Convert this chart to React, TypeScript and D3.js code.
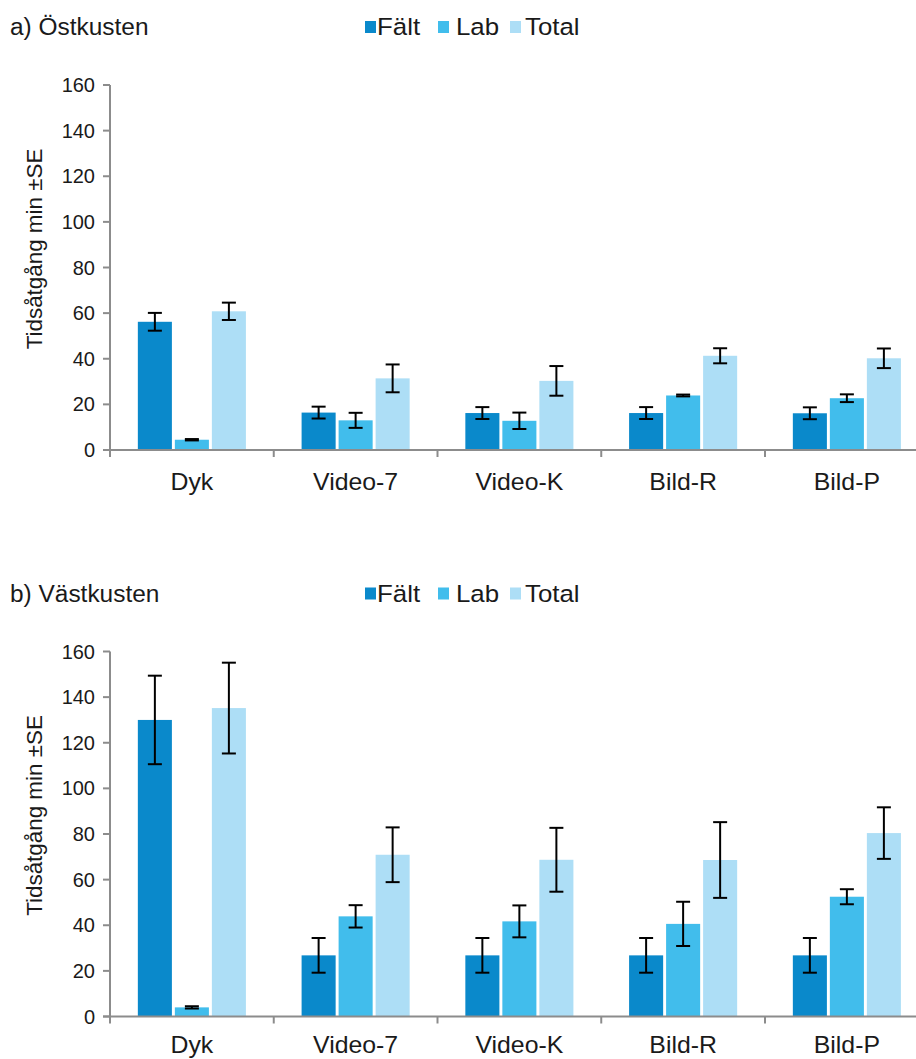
import React from "react";
import * as d3 from "d3";

const categories = ["Dyk", "Video-7", "Video-K", "Bild-R", "Bild-P"];
const seriesNames = ["Fält", "Lab", "Total"];
const seriesColors = ["#0a89cb", "#41bdec", "#addef6"];
const yTicks = [0, 20, 40, 60, 80, 100, 120, 140, 160];

// a) Östkusten
const eastFalt = [56.2, 16.4, 16.2, 16.2, 16.1];
const eastFaltSE = [3.9, 2.6, 2.6, 2.6, 2.6];
const eastLab = [4.5, 13.0, 12.8, 23.9, 22.7];
const eastLabSE = [0.3, 3.3, 3.6, 0.4, 1.7];
const eastTotal = [60.8, 31.4, 30.3, 41.3, 40.2];
const eastTotalSE = [3.8, 6.1, 6.5, 3.3, 4.3];

// b) Västkusten
const westFalt = [130, 26.8, 26.8, 26.8, 26.8];
const westFaltSE = [19.4, 7.6, 7.6, 7.6, 7.6];
const westLab = [4.0, 43.9, 41.7, 40.6, 52.5];
const westLabSE = [0.5, 4.9, 7.0, 9.7, 3.3];
const westTotal = [135.2, 70.9, 68.7, 68.6, 80.4];
const westTotalSE = [19.9, 12.0, 14.0, 16.6, 11.3];

const FONT = "'Liberation Sans', Arial, Helvetica, sans-serif";
const AXIS = "#8c8c8c";
const TXT = "#1a1a1a";

type PanelProps = {
  title: string;
  values: number[][];
  errors: number[][];
  dy: number;
};

function Panel({ title, values, errors, dy }: PanelProps) {
  const y = d3.scaleLinear().domain([0, 160]).range([450 + dy, 85 + dy]);
  const x0 = d3
    .scaleBand<string>()
    .domain(categories)
    .range([110, 928.75])
    .paddingInner(0.322)
    .paddingOuter(0.161);
  const x1 = d3
    .scaleBand<string>()
    .domain(seriesNames)
    .range([0, x0.bandwidth()])
    .paddingInner(0.08)
    .paddingOuter(0.04);
  const step = x0.step();
  const boundaries = d3.range(categories.length + 1).map((i) => 110 + i * step);
  const y0 = y(0);
  const legendX = [365, 438, 510];
  const legendTextX = [377, 456, 525];
  const catY = Math.min(489.5 + dy, 1053);

  return (
    <g>
      <text
        transform={`translate(10,${35 + dy}) scale(1.04,1)`}
        fontFamily={FONT}
        fontSize={23.5}
        fill={TXT}
      >
        {title}
      </text>
      {seriesNames.map((s, i) => (
        <g key={s}>
          <rect x={legendX[i]} y={21 + dy} width={11} height={12} fill={seriesColors[i]} />
          <text
            transform={`translate(${legendTextX[i]},${35 + dy}) scale(1.1,1)`}
            fontFamily={FONT}
            fontSize={23.5}
            fill={TXT}
          >
            {s}
          </text>
        </g>
      ))}
      <text
        transform={`translate(41.5,${249 + dy}) rotate(-90)`}
        textAnchor="middle"
        fontFamily={FONT}
        fontSize={22.4}
        fill={TXT}
      >
        Tidsåtgång min ±SE
      </text>
      {/* bars */}
      {categories.map((c, ci) => (
        <g key={c}>
          {seriesNames.map((s, si) => {
            const v = values[si][ci];
            const bx = (x0(c) as number) + (x1(s) as number);
            return (
              <rect
                key={s}
                x={bx}
                y={y(v)}
                width={x1.bandwidth()}
                height={y0 - y(v)}
                fill={seriesColors[si]}
              />
            );
          })}
        </g>
      ))}
      {/* axes */}
      <line x1={110} x2={110} y1={y(160)} y2={y0} stroke={AXIS} strokeWidth={2} />
      {yTicks.map((t) => (
        <g key={t}>
          <line x1={103} x2={110} y1={y(t)} y2={y(t)} stroke={AXIS} strokeWidth={2} />
          <text
            x={95}
            y={y(t)}
            dy="0.35em"
            textAnchor="end"
            fontFamily={FONT}
            fontSize={20}
            fill={TXT}
          >
            {t}
          </text>
        </g>
      ))}
      <line x1={103} x2={930} y1={y0} y2={y0} stroke={AXIS} strokeWidth={2} />
      {boundaries.map((bx, i) => (
        <line key={i} x1={bx} x2={bx} y1={y0} y2={y0 + 7} stroke={AXIS} strokeWidth={2} />
      ))}
      {categories.map((c) => (
        <text
          key={c}
          transform={`translate(${(x0(c) as number) + x0.bandwidth() / 2},${catY}) scale(1.08,1)`}
          textAnchor="middle"
          fontFamily={FONT}
          fontSize={23}
          fill={TXT}
        >
          {c}
        </text>
      ))}
      {/* error bars */}
      {categories.map((c, ci) => (
        <g key={c}>
          {seriesNames.map((s, si) => {
            const v = values[si][ci];
            const e = errors[si][ci];
            const cx = (x0(c) as number) + (x1(s) as number) + x1.bandwidth() / 2;
            return (
              <g key={s} stroke="#000" strokeWidth={2}>
                <line x1={cx} x2={cx} y1={y(v + e)} y2={y(v - e)} />
                <line x1={cx - 7} x2={cx + 7} y1={y(v + e)} y2={y(v + e)} />
                <line x1={cx - 7} x2={cx + 7} y1={y(v - e)} y2={y(v - e)} />
              </g>
            );
          })}
        </g>
      ))}
    </g>
  );
}

export default function App() {
  return (
    <svg
      width={916}
      height={1059}
      style={{ position: "absolute", left: 0, top: 0, background: "#fff" }}
    >
      <rect x={0} y={0} width={916} height={1059} fill="#fff" />
      <Panel
        title="a) Östkusten"
        values={[eastFalt, eastLab, eastTotal]}
        errors={[eastFaltSE, eastLabSE, eastTotalSE]}
        dy={0}
      />
      <Panel
        title="b) Västkusten"
        values={[westFalt, westLab, westTotal]}
        errors={[westFaltSE, westLabSE, westTotalSE]}
        dy={566.5}
      />
    </svg>
  );
}
